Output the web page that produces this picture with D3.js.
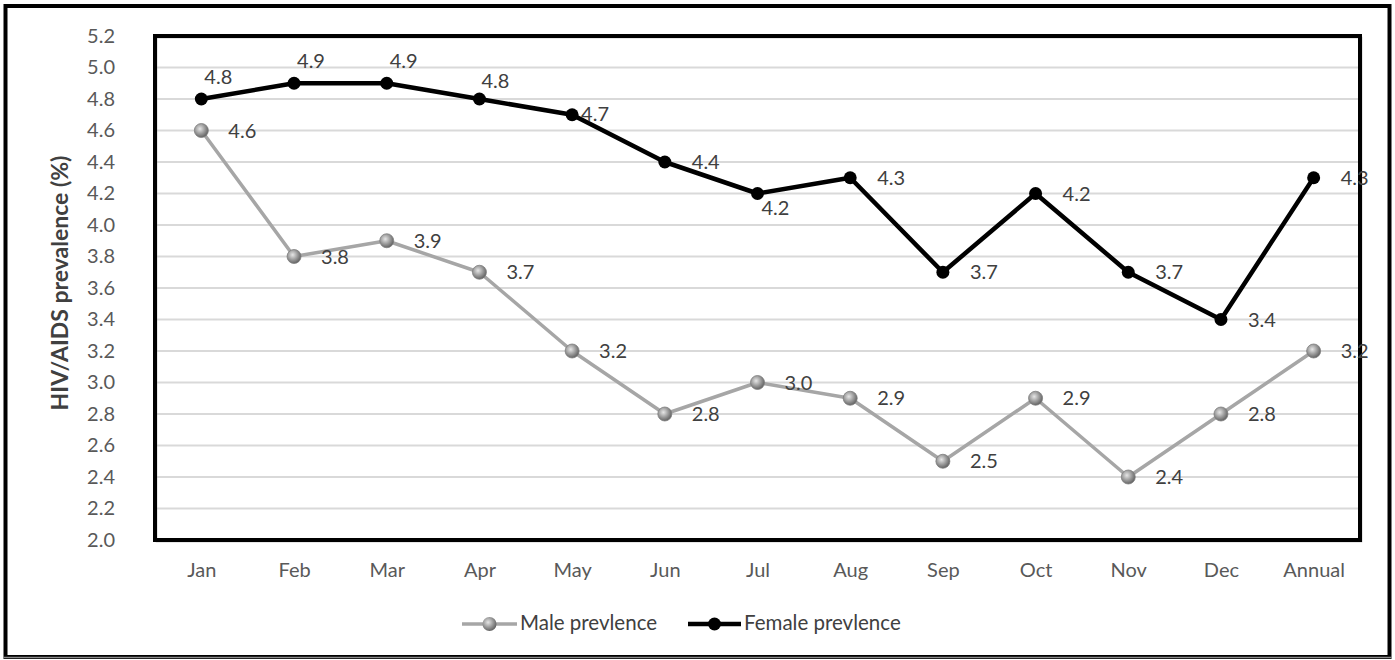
<!DOCTYPE html>
<html>
<head>
<meta charset="utf-8">
<script src="https://cdn.jsdelivr.net/npm/d3@7/dist/d3.min.js"></script>
<style>
  html, body { margin: 0; padding: 0; background: #fff; }
  svg { display: block; font-family: Lato, "Open Sans", sans-serif; }
</style>
</head>
<body>
<svg id="chart" width="1395" height="660"></svg>
<script>
// ---- data ----
const categories = ["Jan","Feb","Mar","Apr","May","Jun","Jul","Aug","Sep","Oct","Nov","Dec","Annual"];
const maleValues   = [4.6, 3.8, 3.9, 3.7, 3.2, 2.8, 3.0, 2.9, 2.5, 2.9, 2.4, 2.8, 3.2];
const femaleValues = [4.8, 4.9, 4.9, 4.8, 4.7, 4.4, 4.2, 4.3, 3.7, 4.2, 3.7, 3.4, 4.3];
const yTicks = [2.0, 2.2, 2.4, 2.6, 2.8, 3.0, 3.2, 3.4, 3.6, 3.8, 4.0, 4.2, 4.4, 4.6, 4.8, 5.0, 5.2];
const seriesNames = ["Male prevlence", "Female prevlence"];
const yTitle = "HIV/AIDS prevalence (%)";
// label placement keywords (style)
const maleLabelPos   = ["r","r","r","r","r","r","r","r","r","r","r","r","r"];
const femaleLabelPos = ["a","a","a","a2","near","r","b","r","r","r","r","r","r"];

const svg = d3.select("#chart");
const plot = { left: 155, right: 1360, top: 36, bottom: 540 };

// gradient for male markers
const defs = svg.append("defs");
const grad = defs.append("radialGradient").attr("id", "sphere")
  .attr("cx", "40%").attr("cy", "38%").attr("r", "65%");
grad.append("stop").attr("offset", "0%").attr("stop-color", "#e6e6e6");
grad.append("stop").attr("offset", "55%").attr("stop-color", "#9a9a9a");
grad.append("stop").attr("offset", "100%").attr("stop-color", "#5e5e5e");

// outer border
svg.append("rect").attr("x", 5.5).attr("y", 6).attr("width", 1384).attr("height", 651)
  .attr("fill", "none").attr("stroke", "#000").attr("stroke-width", 4);
svg.append("line").attr("x1", 3).attr("x2", 1392).attr("y1", 657.5).attr("y2", 657.5)
  .attr("stroke", "#8c8c8c").attr("stroke-width", 1.5);

const x = d3.scalePoint().domain(categories).range([plot.left, plot.right]).padding(0.5);
const y = d3.scaleLinear().domain([2.0, 5.2]).range([plot.bottom, plot.top]);

// gridlines
svg.append("g").selectAll("line").data(yTicks.filter(t => t > 2.0 && t < 5.2)).join("line")
  .attr("x1", plot.left).attr("x2", plot.right)
  .attr("y1", d => y(d)).attr("y2", d => y(d))
  .attr("stroke", "#d9d9d9").attr("stroke-width", 2);

// y axis
const yAxis = svg.append("g").attr("transform", `translate(${plot.left},0)`)
  .call(d3.axisLeft(y).tickValues(yTicks).tickFormat(d3.format(".1f")).tickSize(0).tickPadding(40));
yAxis.select(".domain").remove();
yAxis.selectAll("text").attr("font-size", 20).attr("fill", "#595959").attr("font-family", "Lato, sans-serif");

// x axis
const xAxis = svg.append("g").attr("transform", `translate(0,${plot.bottom})`)
  .call(d3.axisBottom(x).tickSize(0).tickPadding(23));
xAxis.select(".domain").remove();
xAxis.selectAll("text").attr("font-size", 20).attr("fill", "#595959").attr("font-family", "Lato, sans-serif");

// plot frame (with slight shadow)
svg.append("rect").attr("x", plot.left + 1.5).attr("y", plot.top + 1.5)
  .attr("width", plot.right - plot.left).attr("height", plot.bottom - plot.top)
  .attr("fill", "none").attr("stroke", "#9a9a9a").attr("stroke-width", 1.5);
svg.append("rect").attr("x", plot.left).attr("y", plot.top)
  .attr("width", plot.right - plot.left).attr("height", plot.bottom - plot.top)
  .attr("fill", "none").attr("stroke", "#000").attr("stroke-width", 4);

// y title
svg.append("text")
  .attr("transform", `translate(62,283) rotate(-90)`)
  .attr("text-anchor", "middle").attr("dominant-baseline", "middle")
  .attr("font-size", 23).attr("font-weight", "bold").attr("fill", "#404040")
  .text(yTitle);

const line = d3.line().x((d, i) => x(categories[i])).y(d => y(d));

// male series
svg.append("path").datum(maleValues).attr("d", line)
  .attr("fill", "none").attr("stroke", "#a6a6a6").attr("stroke-width", 3.5).attr("stroke-linejoin", "round");
svg.append("g").selectAll("circle").data(maleValues).join("circle")
  .attr("cx", (d, i) => x(categories[i])).attr("cy", d => y(d)).attr("r", 7)
  .attr("fill", "url(#sphere)").attr("stroke", "#7f7f7f").attr("stroke-width", 0.8);

// female series
svg.append("path").datum(femaleValues).attr("d", line)
  .attr("fill", "none").attr("stroke", "#000").attr("stroke-width", 4.5).attr("stroke-linejoin", "round");
svg.append("g").selectAll("circle").data(femaleValues).join("circle")
  .attr("cx", (d, i) => x(categories[i])).attr("cy", d => y(d)).attr("r", 6.5)
  .attr("fill", "#000");

// labels
const offsets = {
  r:    { dx: 27, dy: 2 },
  a:    { dx: 3,  dy: -20 },
  a2:   { dx: 2,  dy: -16 },
  near: { dx: 9,  dy: 1 },
  b:    { dx: 4,  dy: 16 }
};
function addLabels(values, pos) {
  svg.append("g").selectAll("text").data(values).join("text")
    .attr("x", (d, i) => x(categories[i]) + offsets[pos[i]].dx)
    .attr("y", (d, i) => y(d) + offsets[pos[i]].dy)
    .attr("dominant-baseline", "middle")
    .attr("font-size", 20).attr("fill", "#404040")
    .text(d => d3.format(".1f")(d));
}
addLabels(maleValues, maleLabelPos);
addLabels(femaleValues, femaleLabelPos);

// legend
const legY = 624;
const leg = [
  { name: seriesNames[0], x0: 462, x1: 517, color: "#a6a6a6", sw: 3.5, marker: "url(#sphere)", r: 7 },
  { name: seriesNames[1], x0: 688, x1: 741, color: "#000", sw: 4.5, marker: "#000", r: 6.5 }
];
leg.forEach(l => {
  svg.append("line").attr("x1", l.x0).attr("x2", l.x1).attr("y1", legY).attr("y2", legY)
    .attr("stroke", l.color).attr("stroke-width", l.sw);
  svg.append("circle").attr("cx", (l.x0 + l.x1) / 2).attr("cy", legY).attr("r", l.r).attr("fill", l.marker);
  svg.append("text").attr("x", l.x1 + 3).attr("y", legY + 1).attr("dominant-baseline", "middle")
    .attr("font-size", 20.5).attr("fill", "#404040").text(l.name);
});
</script>
</body>
</html>
